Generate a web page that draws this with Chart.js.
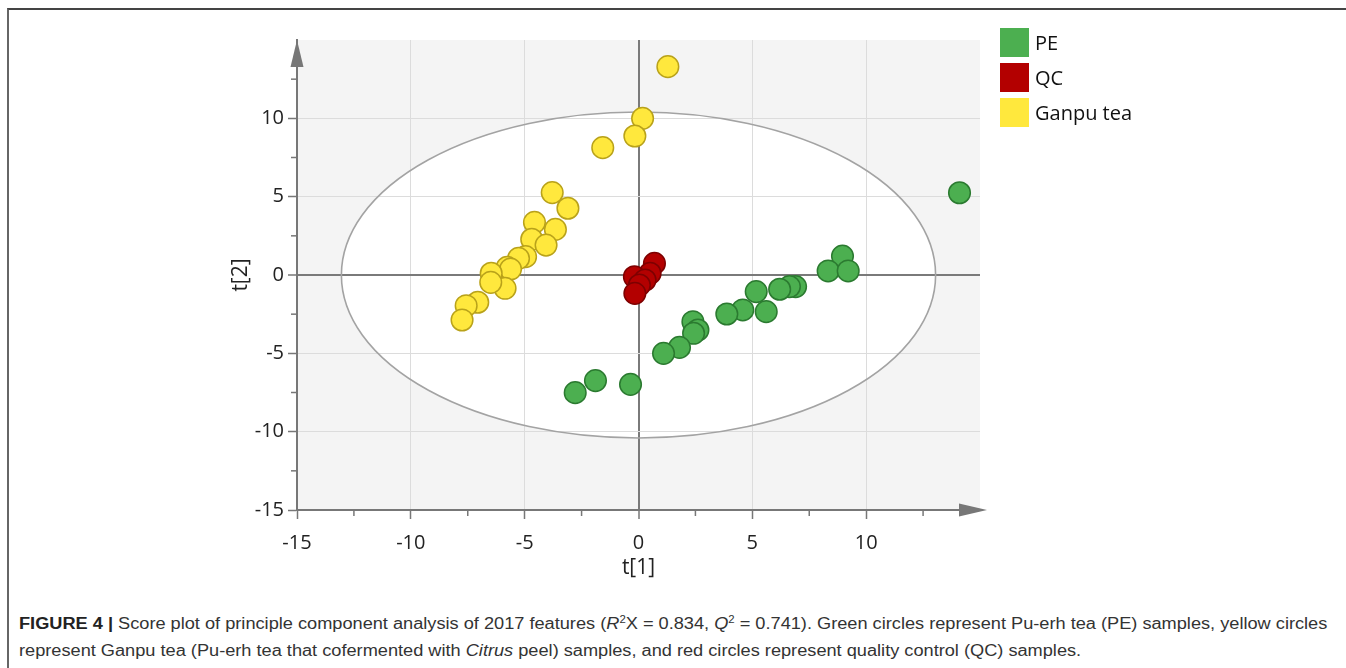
<!DOCTYPE html>
<html>
<head>
<meta charset="utf-8">
<script src="https://cdn.jsdelivr.net/npm/chart.js@4.4.0/dist/chart.umd.min.js"></script>
<style>
  body { margin: 0; background: #fff; width: 1346px; height: 668px; overflow: hidden; position: relative; font-family: "Open Sans", sans-serif; }
  #frame { position: absolute; left: 7px; top: 8px; width: 1339px; height: 660px; border-top: 2px solid #444; border-left: 2px solid #666; box-sizing: border-box; }
  #wrap { position: absolute; left: 0; top: 0; width: 1346px; height: 600px; }
  .legend { position: absolute; left: 1000px; font-size: 20px; color: #111; line-height: 29px; }
  .legend span { display: inline-block; width: 29px; height: 29px; vertical-align: top; margin-right: 6px; }
  .cap { position: absolute; left: 19px; white-space: nowrap; font-family: "Liberation Sans Narrow", "Liberation Sans", Arial, sans-serif; font-size: 16px; color: #333; transform-origin: 0 0; }
  .cap b { color: #222; }
  .cap sup { font-size: 10px; line-height: 0; }
</style>
</head>
<body>
<div id="frame"></div>
<div id="wrap"><canvas id="myChart"></canvas></div>

<div class="legend" style="top:28px"><span style="background:#4caf50"></span>PE</div>
<div class="legend" style="top:63px"><span style="background:#b30000"></span>QC</div>
<div class="legend" style="top:98px"><span style="background:#ffe83d"></span>Ganpu tea</div>

<div class="cap" id="cap1" style="top:615px"><b>FIGURE 4 |</b> Score plot of principle component analysis of 2017 features (<i>R</i><sup>2</sup>X = 0.834, <i>Q</i><sup>2</sup> = 0.741). Green circles represent Pu-erh tea (PE) samples, yellow circles</div>
<div class="cap" id="cap2" style="top:642px">represent Ganpu tea (Pu-erh tea that cofermented with <i>Citrus</i> peel) samples, and red circles represent quality control (QC) samples.</div>

<script>
// t[1] / t[2] scores
var peX = [14.1, 8.96, 8.33, 9.21, 6.9, 6.63, 6.2, 5.17, 4.58, 5.61, 3.88, 2.39, 2.61, 2.42, 1.8, 1.1, -0.35, -1.89, -2.78];
var peY = [5.25, 1.21, 0.26, 0.26, -0.74, -0.74, -0.91, -1.06, -2.23, -2.34, -2.49, -2.98, -3.51, -3.72, -4.62, -5.0, -6.98, -6.74, -7.51];

var qcX = [0.7, 0.51, -0.18, 0.29, 0.04, -0.16];
var qcY = [0.74, 0.11, -0.11, -0.32, -0.64, -1.17];

var gtX = [1.29, 0.18, -0.16, -1.57, -3.79, -3.1, -4.57, -3.65, -4.69, -4.06, -4.96, -5.27, -5.77, -5.62, -6.47, -5.86, -6.49, -7.06, -7.57, -7.75];
var gtY = [13.3, 10.0, 8.87, 8.13, 5.26, 4.26, 3.36, 2.91, 2.28, 1.91, 1.17, 1.06, 0.49, 0.38, 0.11, -0.85, -0.47, -1.74, -1.96, -2.87];

// Hotelling T2 ellipse half-widths
var ellipseA = 13.05;
var ellipseB = 10.4;

function pts(xs, ys) {
    return xs.map(function (x, i) { return { x: x, y: ys[i] }; });
}

var axisGray = '#777';

function gridColor(c) {
    var v = c.tick.value;
    if (v === 0) return '#7a7a7a';
    if (v % 5 !== 0 || v === 15 || v === -15) return 'rgba(0,0,0,0)';
    return '#dcdcdc';
}
function gridWidth(c) {
    return c.tick.value === 0 ? 2 : 1;
}
function tickColor(c) {
    var v = c.tick.value;
    return (v % 5 !== 0 || v === 15) ? 'rgba(0,0,0,0)' : axisGray;
}
function tickLabel(v) {
    return (v % 5 === 0 && v !== 15) ? v : '';
}

var backdrop = {
    id: 'backdrop',
    beforeDraw: function (chart) {
        var ctx = chart.ctx, a = chart.chartArea;
        var sx = chart.scales.x, sy = chart.scales.y;
        ctx.save();
        ctx.fillStyle = '#f4f4f4';
        ctx.fillRect(a.left, a.top, a.right - a.left, a.bottom - a.top);
        var cx = sx.getPixelForValue(0), cy = sy.getPixelForValue(0);
        var rx = sx.getPixelForValue(ellipseA) - cx, ry = cy - sy.getPixelForValue(ellipseB);
        ctx.beginPath();
        ctx.ellipse(cx, cy, rx, ry, 0, 0, Math.PI * 2);
        ctx.fillStyle = '#ffffff';
        ctx.fill();
        ctx.restore();
    },
    beforeDatasetsDraw: function (chart) {
        var ctx = chart.ctx;
        var sx = chart.scales.x, sy = chart.scales.y;
        var cx = sx.getPixelForValue(0), cy = sy.getPixelForValue(0);
        var rx = sx.getPixelForValue(ellipseA) - cx, ry = cy - sy.getPixelForValue(ellipseB);
        ctx.save();
        ctx.beginPath();
        ctx.ellipse(cx, cy, rx, ry, 0, 0, Math.PI * 2);
        ctx.strokeStyle = '#a3a3a3';
        ctx.lineWidth = 1.6;
        ctx.stroke();
        ctx.restore();
    },
    afterDraw: function (chart) {
        var ctx = chart.ctx, a = chart.chartArea;
        var sx = chart.scales.x, sy = chart.scales.y;
        ctx.save();
        ctx.strokeStyle = axisGray;
        ctx.lineWidth = 1.5;
        // minor ticks
        sx.ticks.forEach(function (t) {
            if (t.value % 5 === 0) return;
            var px = sx.getPixelForValue(t.value);
            ctx.beginPath(); ctx.moveTo(px, a.bottom); ctx.lineTo(px, a.bottom + 6); ctx.stroke();
        });
        sy.ticks.forEach(function (t) {
            if (t.value % 5 === 0) return;
            var py = sy.getPixelForValue(t.value);
            ctx.beginPath(); ctx.moveTo(a.left, py); ctx.lineTo(a.left - 6, py); ctx.stroke();
        });
        // arrows
        ctx.fillStyle = axisGray;
        ctx.beginPath();
        ctx.moveTo(a.left, a.top);
        ctx.lineTo(a.left - 6.5, a.top + 27);
        ctx.lineTo(a.left + 6.5, a.top + 27);
        ctx.closePath(); ctx.fill();
        ctx.beginPath();
        ctx.moveTo(a.right + 7, a.bottom);
        ctx.lineTo(a.right - 21, a.bottom - 6.5);
        ctx.lineTo(a.right - 21, a.bottom + 6.5);
        ctx.closePath(); ctx.fill();
        ctx.restore();
    }
};

var tickFont = { family: '"Open Sans", sans-serif', size: 20 };

var ctx = document.getElementById('myChart').getContext('2d');
var myChart = new Chart(ctx, {
    type: 'scatter',
    data: {
        datasets: [{
            label: 'Ganpu tea',
            data: pts(gtX, gtY),
            backgroundColor: '#ffe83d',
            borderColor: '#b9a21a',
            borderWidth: 1.5,
            pointRadius: 10.8,
            pointHoverRadius: 10.8
        }, {
            label: 'QC',
            data: pts(qcX, qcY),
            backgroundColor: '#b30000',
            borderColor: '#7d0000',
            borderWidth: 1.5,
            pointRadius: 10.8,
            pointHoverRadius: 10.8
        }, {
            label: 'PE',
            data: pts(peX, peY),
            backgroundColor: '#4caf50',
            borderColor: '#2b7a30',
            borderWidth: 1.5,
            pointRadius: 10.8,
            pointHoverRadius: 10.8
        }]
    },
    options: {
        responsive: true,
        maintainAspectRatio: false,
        animation: false,
        layout: { padding: { left: 228, top: 40, right: 366, bottom: 0 } },
        plugins: {
            legend: { display: false },
            tooltip: { enabled: false }
        },
        scales: {
            x: {
                type: 'linear',
                min: -15,
                max: 15,
                ticks: { stepSize: 2.5, autoSkip: false, maxRotation: 0, callback: tickLabel, font: tickFont, color: '#222', padding: 12 },
                grid: { color: gridColor, lineWidth: gridWidth, tickLength: 9, tickColor: tickColor, tickWidth: 1.5 },
                border: { color: axisGray, width: 2 },
                title: { display: true, text: 't[1]', font: { family: '"Open Sans", sans-serif', size: 21 }, color: '#222', padding: { top: 0, bottom: 19 } },
                afterFit: function (s) { s.height = 90; }
            },
            y: {
                type: 'linear',
                min: -15,
                max: 15,
                ticks: { stepSize: 2.5, autoSkip: false, callback: tickLabel, font: tickFont, color: '#222', padding: 4 },
                grid: { color: gridColor, lineWidth: gridWidth, tickLength: 9, tickColor: tickColor, tickWidth: 1.5 },
                border: { color: axisGray, width: 2 },
                title: { display: true, text: 't[2]', font: { family: '"Open Sans", sans-serif', size: 21 }, color: '#222', padding: 0 },
                afterFit: function (s) { s.width = 69; }
            }
        }
    },
    plugins: [backdrop]
});

// fit caption lines to the reference width
var c1 = document.getElementById('cap1'), c2 = document.getElementById('cap2');
var k = 1308 / c1.scrollWidth;
c1.style.transform = 'scaleX(' + k + ')';
c2.style.transform = 'scaleX(' + k + ')';
</script>
</body>
</html>
